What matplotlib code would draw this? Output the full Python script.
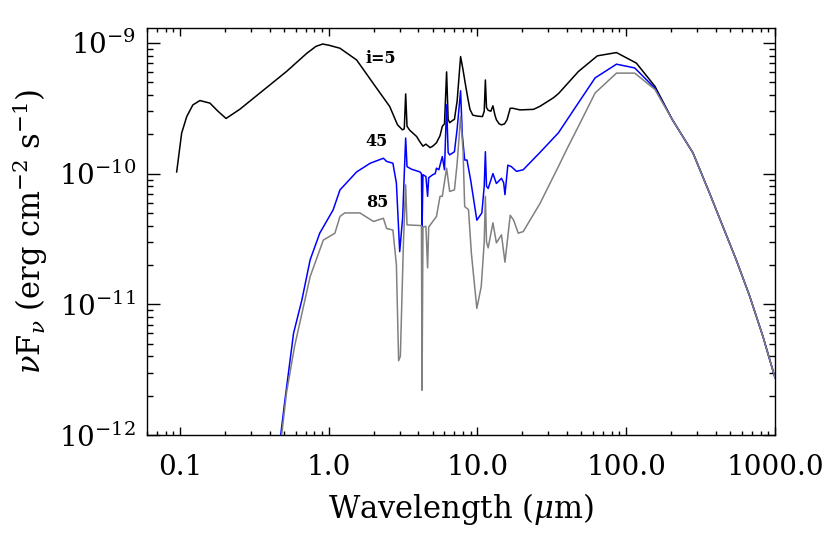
import matplotlib
matplotlib.use("Agg")
import matplotlib.pyplot as plt
from matplotlib.ticker import FixedLocator, FixedFormatter, LogLocator, NullFormatter

plt.rcParams['font.family'] = ['DejaVu Serif']
plt.rcParams['mathtext.fontset'] = 'dejavuserif'

# ---- data (wavelength in micron, nuFnu in erg cm^-2 s^-1) ----
wl_i5 = [0.095, 0.1026, 0.111, 0.122, 0.136, 0.159, 0.18, 0.204, 0.253, 0.52, 0.71, 0.82, 0.91,
         1.0, 1.19, 1.54, 1.99, 2.57, 2.9, 3.13, 3.22, 3.29, 3.36, 3.5, 3.9, 4.1, 4.3, 4.5, 4.8,
         5.0, 5.3, 5.6, 5.8, 6.0, 6.2, 6.35, 6.5, 6.8, 7.0, 7.3, 7.7, 8.0, 8.3, 8.6, 8.9, 9.3,
         10.0, 10.8, 11.1, 11.3, 11.5, 11.8, 12.3, 12.7, 13.1, 13.4, 14.0, 14.5, 15.2, 15.8,
         16.6, 17.3, 19.3, 23.8, 26.3, 32.4, 35.1, 47.7, 64, 86, 117, 156, 204]
fl_i5 = [1.03e-10, 2.04e-10, 2.73e-10, 3.35e-10, 3.62e-10, 3.46e-10, 3.0e-10, 2.64e-10, 3.11e-10,
         6.04e-10, 8.3e-10, 9.4e-10, 9.8e-10, 9.6e-10, 9.1e-10, 7.4e-10, 4.9e-10, 3.26e-10,
         2.36e-10, 2.16e-10, 2.2e-10, 4.07e-10, 2.3e-10, 2.15e-10, 1.92e-10, 1.75e-10, 1.62e-10,
         1.68e-10, 1.58e-10, 1.62e-10, 1.72e-10, 1.95e-10, 2.3e-10, 2.4e-10, 6.0e-10, 2.6e-10,
         2.45e-10, 2.55e-10, 2.6e-10, 3.6e-10, 7.86e-10, 6.2e-10, 4.8e-10, 3.8e-10, 3.1e-10,
         2.8e-10, 2.75e-10, 2.73e-10, 3.0e-10, 5.2e-10, 3.2e-10, 3.05e-10, 3.0e-10, 3.3e-10,
         2.8e-10, 2.58e-10, 2.4e-10, 2.36e-10, 2.4e-10, 2.58e-10, 3.16e-10, 3.16e-10, 3.07e-10,
         3.1e-10, 3.27e-10, 3.8e-10, 4.1e-10, 6.04e-10, 7.96e-10, 8.43e-10, 7.0e-10, 4.65e-10,
         2.59e-10]

wl_i45 = [0.45, 0.508, 0.58, 0.66, 0.75, 0.87, 1.07, 1.19, 1.54, 1.9, 2.33, 2.45, 2.7, 2.85,
          3.0, 3.14, 3.22, 3.29, 3.36, 3.6, 4.1, 4.2, 4.24, 4.3, 4.5, 4.62, 4.7, 5.0, 5.2, 5.3,
          5.5, 5.8, 6.0, 6.2, 6.35, 6.5, 7.0, 7.3, 7.7, 7.9, 8.2, 8.5, 9.0, 9.9, 10.7, 11.1,
          11.3, 11.5, 11.8, 12.7, 13.4, 14.5, 15.0, 15.3, 16.0, 16.9, 18.3, 20.3, 26.3, 35,
          46, 61.8, 86, 114, 156, 204]
fl_i45 = [6e-13, 1.86e-12, 6.0e-12, 1.08e-11, 2.19e-11, 3.5e-11, 5.27e-11, 7.5e-11, 1.03e-10,
          1.2e-10, 1.31e-10, 1.24e-10, 1.2e-10, 8.45e-11, 2.53e-11, 4.6e-11, 1.0e-10, 1.87e-10,
          1.13e-10, 1.08e-10, 1.03e-10, 1.0e-10, 3.7e-11, 9.8e-11, 9.5e-11, 6.7e-11, 9.3e-11,
          9.8e-11, 1.0e-10, 1.1e-10, 1.07e-10, 1.35e-10, 1.07e-10, 3.36e-10, 1.45e-10, 1.39e-10,
          1.47e-10, 2.2e-10, 4.3e-10, 2.0e-10, 1.27e-10, 1.27e-10, 8.9e-11, 4.4e-11, 5.0e-11,
          8e-11, 1.47e-10, 8e-11, 7.7e-11, 1.0e-10, 8.4e-11, 9.2e-11, 8.5e-11, 6.9e-11, 1.16e-10,
          1.13e-10, 1.04e-10, 1.07e-10, 1.45e-10, 2.05e-10, 3.27e-10, 5.4e-10, 6.87e-10,
          6.43e-10, 4.5e-10, 2.59e-10]

wl_i85 = [0.45, 0.52, 0.59, 0.75, 0.92, 1.1, 1.19, 1.28, 1.62, 2.0, 2.33, 2.45, 2.7, 2.85, 2.95,
          3.03, 3.18, 3.29, 3.36, 4.2, 4.24, 4.3, 4.5, 4.62, 4.7, 5.3, 5.6, 5.8, 6.2, 6.5, 7.0,
          7.3, 7.7, 8.0, 8.2, 8.7, 9.1, 9.9, 10.6, 11.1, 11.3, 11.5, 11.8, 12.7, 13.4, 14.5,
          15.3, 16.6, 17.5, 18.8, 20.3, 26.3, 35.9, 39.8, 49, 61.8, 86, 114, 156, 204]
fl_i85 = [5e-13, 2.1e-12, 4.8e-12, 1.63e-11, 3.1e-11, 3.5e-11, 4.7e-11, 5.0e-11, 5.0e-11,
          4.3e-11, 4.55e-11, 3.8e-11, 3.7e-11, 2.0e-11, 3.7e-12, 4.0e-12, 3e-11, 8.2e-11,
          4.05e-11, 4.0e-11, 2.2e-12, 3.9e-11, 3.95e-11, 1.9e-11, 3.9e-11, 4.7e-11, 6.7e-11,
          6.7e-11, 1.1e-10, 7.3e-11, 7.5e-11, 1.2e-10, 2.73e-10, 1.5e-10, 5.6e-11, 5.3e-11,
          2.45e-11, 9.3e-12, 1.37e-11, 3e-11, 6.7e-11, 3e-11, 2.7e-11, 4.2e-11, 2.95e-11,
          3.4e-11, 2.1e-11, 4.8e-11, 4.4e-11, 3.5e-11, 3.6e-11, 5.9e-11, 1.2e-10, 1.53e-10,
          2.44e-10, 4.14e-10, 5.87e-10, 5.87e-10, 4.4e-10, 2.59e-10]

# common far-IR / sub-mm tail
wl_tail = [281, 363, 446, 548, 675, 829, 1000]
fl_tail = [1.44e-10, 7.1e-11, 3.95e-11, 2.2e-11, 1.16e-11, 5.7e-12, 2.75e-12]

series_labels = ['i=5', '45', '85']
series_colors = ['black', '#0000ff', '#808080']

xticks = [0.1, 1.0, 10.0, 100.0, 1000.0]
xticklabels = ['0.1', '1.0', '10.0', '100.0', '1000.0']
yticks = [1e-12, 1e-11, 1e-10, 1e-9]
yticklabels = [r'$10^{-12}$', r'$10^{-11}$', r'$10^{-10}$', r'$10^{-9}$']

# ---- figure ----
fig = plt.figure(figsize=(8.30, 5.53), dpi=100)
ax = fig.add_axes([0.1771, 0.2134, 0.7566, 0.7360])

ax.plot(wl_i5 + wl_tail, fl_i5 + fl_tail, color=series_colors[0], lw=1.1, zorder=3)
ax.plot(wl_i45 + wl_tail, fl_i45 + fl_tail, color=series_colors[1], lw=1.1, zorder=4)
ax.plot(wl_i85 + wl_tail, fl_i85 + fl_tail, color=series_colors[2], lw=1.1, zorder=5)

ax.set_xscale('log')
ax.set_yscale('log')
ax.set_xlim(0.06, 1000)
ax.set_ylim(1e-12, 1.3e-9)

ax.xaxis.set_major_locator(FixedLocator(xticks))
ax.xaxis.set_major_formatter(FixedFormatter(xticklabels))
ax.xaxis.set_minor_locator(LogLocator(base=10, subs=range(2, 10)))
ax.xaxis.set_minor_formatter(NullFormatter())
ax.yaxis.set_major_locator(FixedLocator(yticks))
ax.yaxis.set_major_formatter(FixedFormatter(yticklabels))
ax.yaxis.set_minor_locator(LogLocator(base=10, subs=range(2, 10)))
ax.yaxis.set_minor_formatter(NullFormatter())

ax.tick_params(axis='both', which='both', direction='in', top=True, right=True,
               width=1.0, colors='black')
ax.tick_params(axis='x', which='major', length=6, pad=14, labelsize=20)
ax.tick_params(axis='x', which='minor', length=3)
ax.tick_params(axis='y', which='major', length=9, pad=8, labelsize=20)
ax.tick_params(axis='y', which='minor', length=4.5)
for s in ax.spines.values():
    s.set_linewidth(1.0)

ax.set_xlabel(r'Wavelength ($\mu$m)', fontsize=22, labelpad=7)
ax.set_ylabel(r'$\nu$F$_\nu$ (erg cm$^{-2}$ s$^{-1}$)', fontsize=22, labelpad=6)

label_pos = [(0.3726, 0.926), (0.366, 0.722), (0.366, 0.570)]
for lab, (px, py) in zip(series_labels, label_pos):
    ax.text(px, py, lab, transform=ax.transAxes, ha='center', va='center',
            fontsize=11.5, fontweight='bold', color='black')

fig.savefig('out.png', dpi=100)
